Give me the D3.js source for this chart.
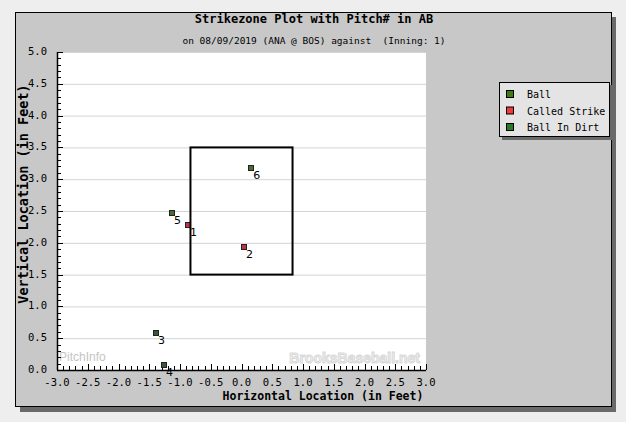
<!DOCTYPE html>
<html><head><meta charset="utf-8">
<script src="https://cdn.jsdelivr.net/npm/d3@7"></script>
<style>body{margin:0;background:#eeeeee;}svg{display:block;}</style>
</head><body>
<script>
const pitchNum = [1, 2, 3, 4, 5, 6];
const pitchX = [-0.87, 0.04, -1.39, -1.26, -1.13, 0.16];
const pitchZ = [2.28, 1.93, 0.58, 0.08, 2.47, 3.18];
const pitchType = ["Called Strike", "Called Strike", "Ball In Dirt", "Ball In Dirt", "Ball", "Ball"];
const legendLabels = ["Ball", "Called Strike", "Ball In Dirt"];
const legendColors = ["#3f7d14", "#ee3b3b", "#2b7a2b"];
const markerColors = ["#4b6b2e", "#c4304c", "#335a3c"];
const xTicks = [-3.0, -2.5, -2.0, -1.5, -1.0, -0.5, 0.0, 0.5, 1.0, 1.5, 2.0, 2.5, 3.0];
const yTicks = [0.0, 0.5, 1.0, 1.5, 2.0, 2.5, 3.0, 3.5, 4.0, 4.5, 5.0];
const zone = {x0: -0.83, x1: 0.83, z0: 1.5, z1: 3.5};
const title = "Strikezone Plot with Pitch# in AB";
const subtitle = "on 08/09/2019 (ANA @ BOS) against  (Inning: 1)";

const W = 626, H = 422;
const svg = d3.select("body").append("svg").attr("width", W).attr("height", H);
const mono = "'DejaVu Sans Mono', 'Liberation Mono', monospace";

// panel shadow + panel
svg.append("rect").attr("x", 20).attr("y", 17).attr("width", 596).attr("height", 395).attr("fill", "#6a6a6a");
svg.append("rect").attr("x", 15.5).attr("y", 12.5).attr("width", 596).attr("height", 394)
  .attr("fill", "#c8c8c8").attr("stroke", "#000").attr("stroke-width", 1);

const x = d3.scaleLinear().domain([-3, 3]).range([57, 426]);
const y = d3.scaleLinear().domain([0, 5]).range([370, 52]);

// plot background
svg.append("rect").attr("x", x(-3)).attr("y", y(5)).attr("width", x(3) - x(-3)).attr("height", y(0) - y(5)).attr("fill", "#fff");

// gridlines
svg.append("g").selectAll("line").data(yTicks.filter(d => d > 0)).join("line")
  .attr("x1", x(-3)).attr("x2", x(3)).attr("y1", d => y(d) + 0.5).attr("y2", d => y(d) + 0.5)
  .attr("stroke", "#d4d4d4").attr("stroke-width", 1);

// watermarks
svg.append("text").attr("x", 59).attr("y", 361).text("PitchInfo")
  .attr("font-family", "Arial, 'Liberation Sans', sans-serif").attr("font-size", 12).attr("fill", "#c4c4c4");
svg.append("text").attr("x", 420).attr("y", 363).attr("text-anchor", "end").text("BrooksBaseball.net")
  .attr("font-family", "Arial, 'Liberation Sans', sans-serif").attr("font-weight", "bold").attr("font-size", 14)
  .attr("fill", "#f2f2f2").attr("stroke", "#d8d8d8").attr("stroke-width", 1);

// axes minor ticks
const xMinor = d3.range(-30, 31).map(v => v / 10);
const yMinor = d3.range(0, 51).map(v => v / 10);
const isMajor = v => Math.abs(Math.round(v * 2) - v * 2) < 1e-6;
svg.append("g").selectAll("line").data(xMinor).join("line")
  .attr("x1", d => Math.round(x(d)) + 0.5).attr("x2", d => Math.round(x(d)) + 0.5)
  .attr("y1", y(0)).attr("y2", d => y(0) - (isMajor(d) ? 6 : 4))
  .attr("stroke", "#000");
svg.append("g").selectAll("line").data(yMinor).join("line")
  .attr("y1", d => Math.round(y(d)) + 0.5).attr("y2", d => Math.round(y(d)) + 0.5)
  .attr("x1", x(-3)).attr("x2", d => x(-3) + (isMajor(d) ? 6 : 4))
  .attr("stroke", "#000");
// axis lines
svg.append("line").attr("x1", x(-3)).attr("x2", x(3)).attr("y1", y(0) + 0.5).attr("y2", y(0) + 0.5).attr("stroke", "#000").attr("stroke-width", 1.5);
svg.append("line").attr("x1", x(-3) + 0.5).attr("x2", x(-3) + 0.5).attr("y1", y(5)).attr("y2", y(0)).attr("stroke", "#000").attr("stroke-width", 1.5);

// tick labels
svg.append("g").selectAll("text").data(xTicks).join("text")
  .attr("x", d => x(d)).attr("y", 386).attr("text-anchor", "middle")
  .attr("font-family", mono).attr("font-size", 10.5).attr("fill", "#000")
  .text(d => d.toFixed(1));
svg.append("g").selectAll("text").data(yTicks).join("text")
  .attr("x", 47).attr("y", d => y(d) + 3).attr("text-anchor", "end")
  .attr("font-family", mono).attr("font-size", 10.5).attr("fill", "#000")
  .text(d => d.toFixed(1));

// axis titles
svg.append("text").attr("x", 323).attr("y", 400).attr("text-anchor", "middle")
  .attr("font-family", mono).attr("font-weight", "bold").attr("font-size", 11.5).text("Horizontal Location (in Feet)");
svg.append("text").attr("transform", "translate(28,194) rotate(-90)").attr("text-anchor", "middle")
  .attr("font-family", mono).attr("font-weight", "bold").attr("font-size", 13.5).text("Vertical Location (in Feet)");

// titles
svg.append("text").attr("x", 314).attr("y", 23).attr("text-anchor", "middle")
  .attr("font-family", mono).attr("font-weight", "bold").attr("font-size", 12).text(title);
svg.append("text").attr("x", 314).attr("y", 44).attr("text-anchor", "middle")
  .attr("xml:space", "preserve").style("white-space", "pre")
  .attr("font-family", mono).attr("font-size", 9.5).text(subtitle);

// points
const pts = pitchNum.map((n, i) => ({n, px: pitchX[i], pz: pitchZ[i], t: pitchType[i]}));
const g = svg.append("g");
g.selectAll("rect").data(pts).join("rect")
  .attr("x", d => Math.round(x(d.px)) - 3 + 0.5).attr("y", d => Math.round(y(d.pz)) - 3 + 0.5)
  .attr("width", 5).attr("height", 5)
  .attr("fill", d => markerColors[legendLabels.indexOf(d.t)]).attr("stroke", "#222").attr("stroke-width", 1);

// strike zone
svg.append("rect").attr("x", x(zone.x0)).attr("y", y(zone.z1)).attr("width", x(zone.x1) - x(zone.x0)).attr("height", y(zone.z0) - y(zone.z1))
  .attr("fill", "none").attr("stroke", "#000").attr("stroke-width", 2);

g.selectAll("text").data(pts).join("text")
  .attr("x", d => x(d.px) + 2).attr("y", d => y(d.pz) + 11)
  .attr("font-family", "'DejaVu Sans', sans-serif").attr("font-size", 11).attr("fill", "#000")
  .text(d => d.n);

// legend
svg.append("rect").attr("x", 502).attr("y", 85).attr("width", 111).attr("height", 55).attr("fill", "#6a6a6a");
svg.append("rect").attr("x", 499.5).attr("y", 82.5).attr("width", 110).attr("height", 54)
  .attr("fill", "#e4e4e4").attr("stroke", "#000");
const lg = svg.append("g").selectAll("g").data(legendLabels).join("g")
  .attr("transform", (d, i) => `translate(0,${94 + i * 16.5})`);
lg.append("rect").attr("x", 506.5).attr("y", -3.5).attr("width", 7).attr("height", 7)
  .attr("fill", (d, i) => legendColors[i]).attr("stroke", "#000");
lg.append("text").attr("x", 527).attr("y", 4).attr("font-family", mono).attr("font-size", 10).text(d => d);
</script>
</body></html>
